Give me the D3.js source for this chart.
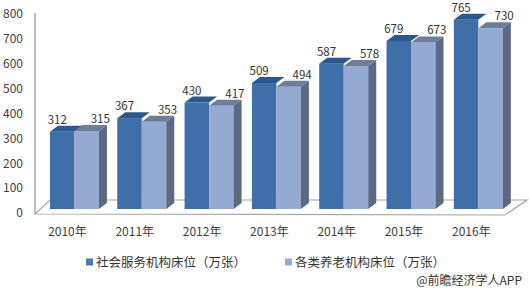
<!DOCTYPE html>
<html>
<head>
<meta charset="utf-8">
<script src="https://cdn.jsdelivr.net/npm/d3@7"></script>
<style>
body{margin:0;background:#fff;}
svg{display:block;font-family:"Noto Sans CJK SC","Noto Sans",sans-serif;}
</style>
</head>
<body>
<div class="graph"></div>
<script>
// chart data
var years = ["2010年","2011年","2012年","2013年","2014年","2015年","2016年"];
var serviceBeds = [312,367,430,509,587,679,765];
var elderlyBeds = [315,353,417,494,578,673,730];
var yTicks = [0,100,200,300,400,500,600,700,800];
var seriesNames = ["社会服务机构床位（万张）","各类养老机构床位（万张）"];

const width = 529;
const height = 292;
const depthX = 8;
const depthY = 6;

var colors = [
    {front:"#3f6fa9", top:"#2c598d", side:"#2c598d", legend:"#4a77ae"},
    {front:"#94aad3", top:"#6e7d98", side:"#5c6985", legend:"#94aad3"}
];

var svg = d3.select(".graph")
    .append("svg")
    .attr("width",width)
    .attr("height",height);

// scales
var scaleX = d3.scaleBand()
    .domain(years)
    .range([40.8,512])
    .paddingInner(0.272)
    .paddingOuter(0.136);

var scaleSeries = d3.scaleBand()
    .domain([0,1])
    .range([0,scaleX.bandwidth()]);

// axis labels sit on the front edge, bars a bit behind it
var scaleY = d3.scaleLinear().domain([0,800]).range([213,14]);
var scaleBar = d3.scaleLinear().domain([0,800]).range([209,11]);

// y axis (labels only, vertical line drawn by hand)
var yAxis = d3.axisLeft(scaleY)
    .tickValues(yTicks)
    .tickSize(0)
    .tickPadding(0);

var gy = svg.append("g")
    .attr("transform","translate(23,0)")
    .call(yAxis);
gy.select(".domain").remove();
gy.selectAll("text")
    .attr("font-size","12px")
    .attr("fill","#404040")
    .attr("font-family","\"Noto Sans CJK SC\",sans-serif");

// back wall line and floor
var lineColor = "#a6a6a6";
svg.append("line")
    .attr("x1",35).attr("y1",13)
    .attr("x2",35).attr("y2",214)
    .attr("stroke",lineColor).attr("stroke-width",1.5);

svg.append("path")
    .attr("d","M35,214 L50,200 L527,200 L505,215 Z")
    .attr("fill","none")
    .attr("stroke",lineColor)
    .attr("stroke-width",1.2);

// bars
var groups = svg.selectAll(".year")
    .data(years)
    .enter()
    .append("g")
    .attr("class","year");

groups.each(function(year,i){
    var g = d3.select(this);
    var vals = [serviceBeds[i],elderlyBeds[i]];
    vals.forEach(function(v,s){
        var x0 = scaleX(year)+scaleSeries(s);
        var x1 = x0+scaleSeries.bandwidth();
        var yt = scaleBar(v);
        var yb = scaleBar(0);
        g.append("rect")
            .attr("x",x0).attr("y",yt)
            .attr("width",x1-x0).attr("height",yb-yt)
            .attr("fill",colors[s].front);
        g.append("path")
            .attr("d","M"+x0+","+yt+" L"+(x0+depthX)+","+(yt-depthY)+" L"+(x1+depthX)+","+(yt-depthY)+" L"+x1+","+yt+" Z")
            .attr("fill",colors[s].top);
        if(s==1){
            g.append("path")
                .attr("d","M"+x1+","+yt+" L"+(x1+depthX)+","+(yt-depthY)+" L"+(x1+depthX)+","+(yb-depthY)+" L"+x1+","+yb+" Z")
                .attr("fill",colors[s].side);
        }
        // value label
        var cx = (x0+x1)/2 + (s==0 ? -5 : 13.5);
        g.append("text")
            .attr("x",cx)
            .attr("y",yt-8)
            .attr("text-anchor","middle")
            .attr("font-size","11.5px")
            .attr("fill","#333")
            .text(v);
    });
});

// x labels
svg.selectAll(".xlabel")
    .data(years)
    .enter()
    .append("text")
    .attr("class","xlabel")
    .attr("x",(d) => scaleX(d)+scaleX.bandwidth()/2-7)
    .attr("y",236)
    .attr("text-anchor","middle")
    .attr("font-size","12px")
    .attr("fill","#404040")
    .text((d) => d);

// legend
var legendX = [86,285];
var legend = svg.selectAll(".legend")
    .data(seriesNames)
    .enter()
    .append("g")
    .attr("class","legend")
    .attr("transform",(d,i) => "translate("+legendX[i]+",262)");

legend.append("rect")
    .attr("x",0).attr("y",-3.5)
    .attr("width",7).attr("height",7)
    .attr("fill",(d,i) => colors[i].legend);

legend.append("text")
    .attr("x",10)
    .attr("y",4.5)
    .attr("font-size","12.5px")
    .attr("fill","#333")
    .text((d) => d);

// source
svg.append("text")
    .attr("x",522)
    .attr("y",284.5)
    .attr("text-anchor","end")
    .attr("font-size","12px")
    .attr("fill","#333")
    .text("@前瞻经济学人APP");
</script>
</body>
</html>
